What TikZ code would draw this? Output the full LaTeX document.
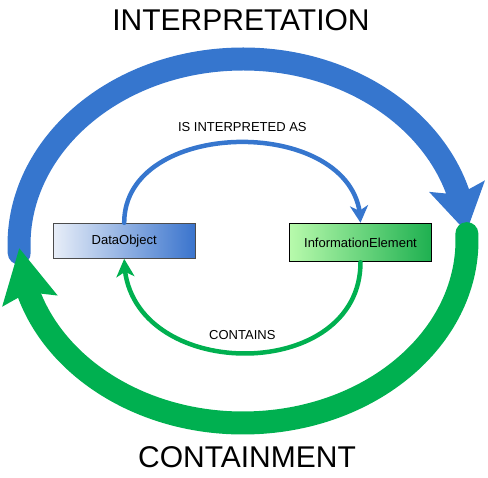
\documentclass[tikz,border=0pt]{standalone}
\usepackage{fontspec}
\setmainfont{Liberation Sans}
\usetikzlibrary{arrows.meta,bending}

\definecolor{interpblue}{RGB}{54,118,206}
\definecolor{containgreen}{RGB}{0,176,80}
\definecolor{dobjleft}{RGB}{232,238,248}
\definecolor{dobjright}{RGB}{58,116,205}
\definecolor{ieleft}{RGB}{184,250,172}
\definecolor{ieright}{RGB}{30,176,80}

\begin{document}
\begin{tikzpicture}[x=1pt,y=1pt,node distance=236.3pt,
  box/.style={draw,minimum width=142pt,line width=1pt,font=\fontsize{13}{15}\selectfont},
  big/.style={line width=23pt,line cap=round},
  small/.style={line width=4.5pt,line cap=round},
  lbl/.style={text=black,font=\fontsize{13}{15}\selectfont},
  title/.style={font=\fontsize{30}{36}\selectfont}]
\useasboundingbox (0,0) rectangle (488,478);

\node[title] (interp) at (241,458) {INTERPRETATION};
\node[title] (contain) at (247,21) {CONTAINMENT};

\node[box, minimum height=35pt, draw=black!70, left color=dobjleft, right color=dobjright] (dobj) at (124.2,237.2) {DataObject};
\node[box, minimum height=38.5pt, left color=ieleft, right color=ieright] (ie) [right of=dobj, yshift=-1.7pt] {InformationElement};

% outer loop
\path (243,233) ++(182.5:224 and 186) coordinate (interpstart);
\path (243,238) ++(2:224 and 183) coordinate (containstart);
\draw[big,interpblue,-{Stealth[length=46pt,width=55pt,inset=8pt]}] (interpstart) arc[start angle=182.5,end angle=4,x radius=224,y radius=186];
\draw[big,containgreen,-{Stealth[length=53pt,width=54pt,inset=8pt]}] (containstart) arc[start angle=2,end angle=-177.5,x radius=224,y radius=183];

% inner loop
\draw[small,interpblue,-{Stealth[length=17pt,width=18pt,inset=5pt]}] (dobj.north) to[out=90,in=90,looseness=1.17] node[lbl,above=5pt] {IS INTERPRETED AS} (ie.north);
\draw[small,containgreen,-{Stealth[length=18pt,width=18pt,inset=5pt]}] (ie.south) to[out=-90,in=-90,looseness=1.34] node[lbl,above=8pt] {CONTAINS} (dobj.south);
\end{tikzpicture}
\end{document}
